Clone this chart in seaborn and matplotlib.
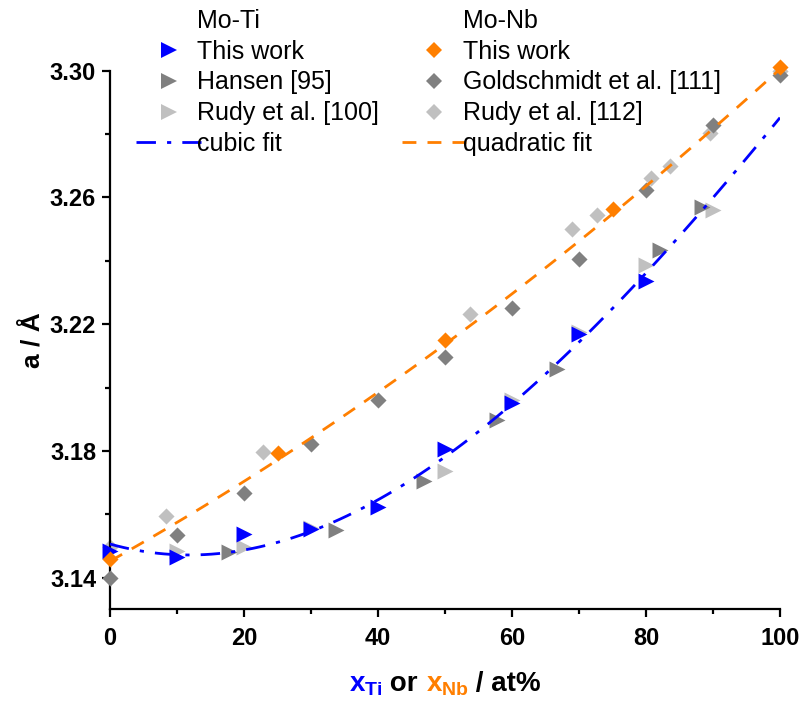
import matplotlib
matplotlib.use("Agg")
import matplotlib.pyplot as plt
from matplotlib.lines import Line2D
from matplotlib.offsetbox import TextArea, HPacker, AnchoredOffsetbox
import seaborn as sns
import pandas as pd

# ---- lattice parameter data (a in Angstrom vs. composition in at%) ----
# Mo-Ti
ti_this_x = [0, 10, 20, 30, 40, 50, 60, 70, 80]
ti_this_y = [3.1485, 3.1465, 3.1538, 3.1554, 3.1622, 3.1805, 3.1952, 3.2168, 3.2335]
ti_hansen_x = [17.7, 33.8, 46.8, 57.7, 66.7, 82.1, 88.3]
ti_hansen_y = [3.1480, 3.1550, 3.1704, 3.1899, 3.2058, 3.2433, 3.2569]
ti_rudy_x = [10, 20, 30, 50, 60, 70, 80, 90]
ti_rudy_y = [3.1483, 3.1496, 3.1558, 3.1738, 3.1960, 3.2175, 3.2386, 3.2560]

# Mo-Nb
nb_this_x = [0, 25, 50, 75, 100]
nb_this_y = [3.1459, 3.1794, 3.2149, 3.2565, 3.3013]
nb_gold_x = [0, 10, 20, 30, 40, 50, 60, 70, 80, 90, 100]
nb_gold_y = [3.1400, 3.1533, 3.1666, 3.1822, 3.1962, 3.2096, 3.2252, 3.2407, 3.2625, 3.2828, 3.2986]
nb_rudy_x = [0, 8.4, 22.8, 53.7, 68.9, 72.7, 80.8, 83.6, 89.6, 100]
nb_rudy_y = [3.1496, 3.1594, 3.1795, 3.2231, 3.2500, 3.2543, 3.2660, 3.2700, 3.2803, 3.3000]

x_ticks = [0, 20, 40, 60, 80, 100]
y_ticks = [3.14, 3.18, 3.22, 3.26, 3.30]

BLUE = "#0000FF"
ORANGE = "#FF7F00"
DARK = "#808080"
LIGHT = "#C0C0C0"

sns.set_theme(style="ticks")
plt.rcParams["font.family"] = ["Liberation Sans", "DejaVu Sans"]
plt.rcParams["mathtext.fontset"] = "custom"
plt.rcParams["mathtext.rm"] = "Liberation Sans:bold"
plt.rcParams["mathtext.it"] = "Liberation Sans:bold"
plt.rcParams["mathtext.bf"] = "Liberation Sans:bold"
plt.rcParams["text.color"] = "black"
plt.rcParams["axes.labelcolor"] = "black"
plt.rcParams["xtick.color"] = "black"
plt.rcParams["ytick.color"] = "black"
plt.rcParams["xtick.labelcolor"] = "black"
plt.rcParams["ytick.labelcolor"] = "black"

fig = plt.figure(figsize=(8.02, 7.01), dpi=100)
ax = fig.add_axes([110 / 802, 1 - 609.3 / 701, 670 / 802, 538.6 / 701])
ax.set_xlim(0, 100)
ax.set_ylim(3.13, 3.30)

ti_all = pd.DataFrame({
    "x": ti_this_x + ti_hansen_x + ti_rudy_x,
    "y": ti_this_y + ti_hansen_y + ti_rudy_y,
})
nb_all = pd.DataFrame({
    "x": nb_this_x + nb_gold_x + nb_rudy_x,
    "y": nb_this_y + nb_gold_y + nb_rudy_y,
})

TRI = 11.5 ** 2
DIA = 8.2 ** 2

def scatter(xs, ys, marker, color, size, z):
    sns.scatterplot(x=xs, y=ys, marker=marker, color=color, s=size,
                    linewidth=0, ax=ax, zorder=z, clip_on=False, legend=False)

# literature data underneath, own data on top
scatter(nb_rudy_x, nb_rudy_y, "D", LIGHT, DIA, 2)
scatter(ti_rudy_x, ti_rudy_y, ">", LIGHT, TRI, 2)
scatter(nb_gold_x, nb_gold_y, "D", DARK, DIA, 3)
scatter(ti_hansen_x, ti_hansen_y, ">", DARK, TRI, 3)
scatter(ti_this_x, ti_this_y, ">", BLUE, TRI, 4)
scatter(nb_this_x, nb_this_y, "D", ORANGE, DIA, 5)

# polynomial fits
sns.regplot(data=ti_all, x="x", y="y", order=3, ci=None, scatter=False,
            truncate=False, ax=ax,
            line_kws=dict(color=BLUE, lw=2, dashes=(7, 4, 1.5, 4), zorder=6))
sns.regplot(data=nb_all, x="x", y="y", order=2, ci=None, scatter=False,
            truncate=False, ax=ax,
            line_kws=dict(color=ORANGE, lw=2, dashes=(5, 4), zorder=6))
ax.set_xlim(0, 100)
ax.set_ylim(3.13, 3.30)

sns.despine(ax=ax)
for s in ("left", "bottom"):
    ax.spines[s].set_linewidth(1.6)
    ax.spines[s].set_color("black")

ax.set_xticks(x_ticks)
ax.set_xticks([10, 30, 50, 70, 90], minor=True)
ax.set_yticks(y_ticks)
ax.set_yticks([3.16, 3.20, 3.24, 3.28], minor=True)
ax.set_yticklabels([f"{v:.2f}" for v in y_ticks])
ax.tick_params(which="major", direction="out", length=6, width=1.6,
               labelsize=17, color="black", labelcolor="black", pad=4)
ax.tick_params(axis="x", which="major", pad=7)
ax.tick_params(which="minor", direction="out", length=3.5, width=1.6, color="black")
for lab in ax.get_xticklabels() + ax.get_yticklabels():
    lab.set_fontweight("bold")
    lab.set_color("black")

ax.set_xlabel("")
ax.set_ylabel("a / Å", fontsize=19, fontweight="bold", labelpad=4, color="black")

# two-colour x-axis label
parts = [
    TextArea(r"$x_{Ti}$", textprops=dict(color=BLUE, fontsize=20)),
    TextArea(" or ", textprops=dict(color="black", fontsize=20, fontweight="bold")),
    TextArea(r"$x_{Nb}$", textprops=dict(color=ORANGE, fontsize=20)),
    TextArea(" / at%", textprops=dict(color="black", fontsize=20, fontweight="bold")),
]
box = HPacker(children=parts, align="baseline", pad=0, sep=0)
anchored = AnchoredOffsetbox(loc="center", child=box, frameon=False,
                             bbox_to_anchor=(0.5, -0.14),
                             bbox_transform=ax.transAxes, borderpad=0)
ax.add_artist(anchored)

# legend: two columns, Mo-Ti and Mo-Nb
blank = Line2D([], [], linestyle="none")
def mk(marker, color, ms):
    return Line2D([], [], linestyle="none", marker=marker, color=color,
                  markersize=ms, markeredgewidth=0)

handles = [
    blank,
    mk(">", BLUE, 11.5), mk(">", DARK, 11.5), mk(">", LIGHT, 11.5),
    Line2D([], [], color=BLUE, lw=2, dashes=(7, 4, 1.5, 4)),
    blank,
    mk("D", ORANGE, 8.2), mk("D", DARK, 8.2), mk("D", LIGHT, 8.2),
    Line2D([], [], color=ORANGE, lw=2, dashes=(5, 4)),
]
labels = [
    "Mo-Ti", "This work", "Hansen [95]", "Rudy et al. [100]", "cubic fit",
    "Mo-Nb", "This work", "Goldschmidt et al. [111]", "Rudy et al. [112]", "quadratic fit",
]
leg = fig.legend(handles, labels, ncol=2, loc="upper left",
                 bbox_to_anchor=(136 / 802, 1 - 9 / 701), frameon=False,
                 fontsize=18, handlelength=2.6, handletextpad=-0.15,
                 columnspacing=0.9, labelspacing=0.27, borderpad=0, borderaxespad=0)
for t in leg.get_texts():
    t.set_color("black")

fig.savefig("out.png", dpi=100)
